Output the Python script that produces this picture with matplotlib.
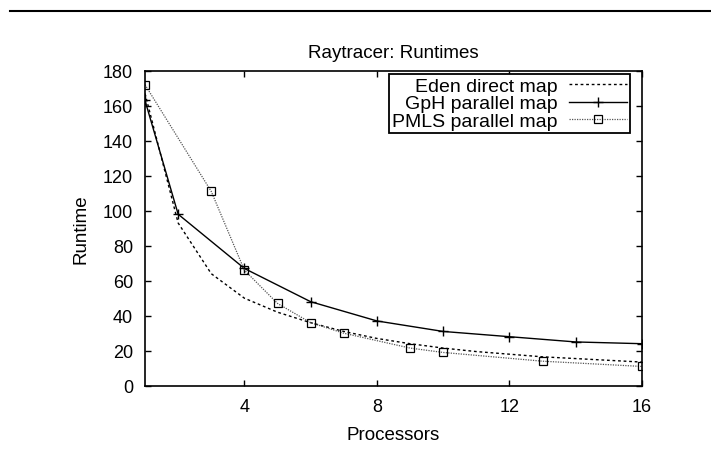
import matplotlib
matplotlib.use("Agg")
import matplotlib.pyplot as plt
from matplotlib.lines import Line2D

plt.rcParams['font.family'] = ['Liberation Sans', 'DejaVu Sans']

# ---- data ----
eden_x = [1, 2, 3, 4, 5, 6, 7, 8, 9, 10, 11, 12, 13, 14, 15, 16]
eden_y = [167, 93, 64, 50, 42, 36, 31, 27, 24, 21.5, 19.5, 18, 16.5, 15.5, 14.5, 13.5]

gph_x = [1, 2, 4, 6, 8, 10, 12, 14, 16]
gph_y = [163, 98, 67, 48, 37, 31, 28, 25, 24]

pmls_x = [1, 3, 4, 5, 6, 7, 9, 10, 13, 16]
pmls_y = [172, 111, 66, 47, 36, 30, 21.5, 19, 14, 11]

x_ticks = [4, 8, 12, 16]
y_ticks = list(range(0, 181, 20))

title = "Raytracer: Runtimes"
xlabel = "Processors"
ylabel = "Runtime"
labels = ["Eden direct map", "GpH parallel map", "PMLS parallel map"]

# ---- figure ----
fig = plt.figure(figsize=(7.11, 4.64), dpi=100)
ax = fig.add_axes([145/711, 1-386.7/464, (642-145)/711, (386.7-71.7)/464])

fs = 13
ax.plot(eden_x, eden_y, color='black', lw=1.0, linestyle=(0, (2, 2)), label=labels[0])
ax.plot(gph_x, gph_y, color='black', lw=1.0, linestyle='-', marker='+', ms=6.5,
        mew=1.0, label=labels[1])
ax.plot(pmls_x, pmls_y, color='#555555', lw=0.9, linestyle=(0, (1, 1)), marker='s', ms=5.2,
        mfc='none', mec='black', mew=0.9, label=labels[2])

ax.set_xlim(1, 16)
ax.set_ylim(0, 180)
ax.set_xticks(x_ticks)
ax.set_yticks(y_ticks)
ax.tick_params(direction='in', length=4.5, width=1.0, top=True, right=True,
               labelsize=fs, pad=8.5, colors='black')
for s in ax.spines.values():
    s.set_linewidth(1.2)

ax.set_title(title, fontsize=13.5, pad=10)
ax.set_xlabel(xlabel, fontsize=13.5, labelpad=8)
ax.set_ylabel(ylabel, fontsize=13.5, labelpad=10)

# markerfirst=False: text on the left, right-aligned against the sample lines
leg = ax.legend(loc='upper right', bbox_to_anchor=(0.976, 0.9886), borderaxespad=0,
                fontsize=14, markerfirst=False, frameon=True, fancybox=False,
                edgecolor='black', framealpha=1, labelspacing=0.0, handlelength=3.0,
                handletextpad=0.6, borderpad=0.15)
leg.get_frame().set_linewidth(1.3)

# top rule
fig.add_artist(Line2D([10/711, 1.0], [1-12/464, 1-12/464], transform=fig.transFigure,
                      color='black', lw=1.5))

fig.savefig("out.png", dpi=100)
